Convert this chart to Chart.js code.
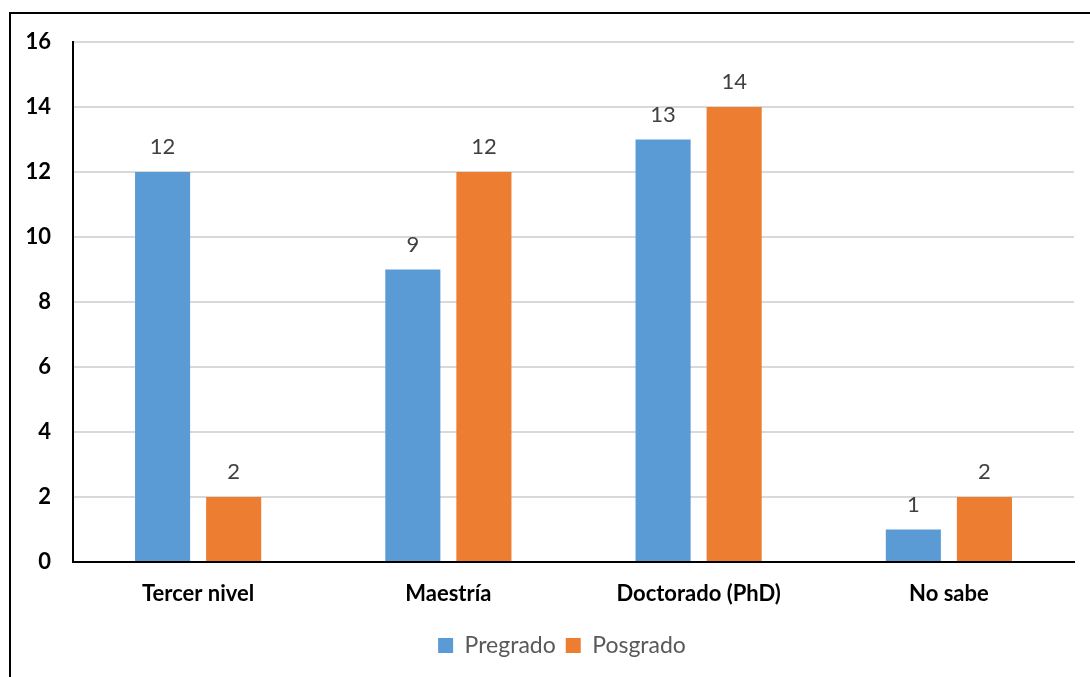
<!DOCTYPE html>
<html>
<head>
<meta charset="utf-8">
<script src="https://cdn.jsdelivr.net/npm/chart.js@4"></script>
<style>
  html, body { margin: 0; padding: 0; background: #fff; }
  #wrap { width: 1090px; height: 677px; }
</style>
</head>
<body>
<div id="wrap"><canvas id="nivelChart"></canvas></div>
<script>
const categories = ['Tercer nivel', 'Maestría', 'Doctorado (PhD)', 'No sabe'];
const pregrado = [12, 9, 13, 1];
const posgrado = [2, 12, 14, 2];
const yTicks = [0, 2, 4, 6, 8, 10, 12, 14, 16];

// outer frame (only top and left edges are visible in the picture)
const framePlugin = {
    id: 'frame',
    beforeDraw(chart) {
        const ctx = chart.ctx;
        ctx.save();
        ctx.strokeStyle = '#000';
        ctx.lineWidth = 2;
        ctx.beginPath();
        ctx.moveTo(10, 677);
        ctx.lineTo(10, 13);
        ctx.lineTo(1090, 13);
        ctx.stroke();
        ctx.restore();
    },
    // nudge the legend so it centres under the plot, like the original
    afterLayout(chart) {
        if (chart.legend) {
            chart.legend.left += 20;
            chart.legend.right += 20;
        }
    }
};

// value labels above each bar
const valueLabels = {
    id: 'valueLabels',
    afterDatasetsDraw(chart) {
        const ctx = chart.ctx;
        ctx.save();
        ctx.font = '22px Lato';
        ctx.fillStyle = '#404040';
        ctx.textAlign = 'center';
        ctx.textBaseline = 'bottom';
        chart.data.datasets.forEach((ds, i) => {
            chart.getDatasetMeta(i).data.forEach((bar, j) => {
                ctx.fillText(ds.data[j], bar.x, bar.y - 14);
            });
        });
        ctx.restore();
    }
};

const nivelChart = new Chart(document.getElementById('nivelChart'), {
    type: 'bar',
    data: {
        labels: categories,
        datasets: [{
            label: 'Pregrado',
            data: pregrado,
            backgroundColor: '#5B9BD5'
        }, {
            label: 'Posgrado',
            data: posgrado,
            backgroundColor: '#ED7D31'
        }]
    },
    options: {
        responsive: true,
        maintainAspectRatio: false,
        animation: false,
        layout: {
            padding: { left: 10, right: 16, top: 42, bottom: 10 }
        },
        datasets: {
            bar: { categoryPercentage: 0.568, barPercentage: 0.775 }
        },
        scales: {
            x: {
                afterFit(axis) { axis.height = 62; },
                grid: { display: false, drawTicks: false },
                border: { color: '#000', width: 2 },
                ticks: {
                    color: '#000',
                    font: { family: 'Lato', size: 22, weight: 'bold' },
                    padding: 19
                }
            },
            y: {
                min: 0,
                max: 16,
                afterBuildTicks(axis) {
                    axis.ticks = yTicks.map(v => ({ value: v }));
                },
                afterFit(axis) { axis.width = 63; },
                grid: { color: '#d9d9d9', lineWidth: 2, drawTicks: false },
                border: { color: '#000', width: 2 },
                ticks: {
                    color: '#000',
                    font: { family: 'Lato', size: 22, weight: 'bold' },
                    padding: 22
                }
            }
        },
        plugins: {
            legend: {
                position: 'bottom',
                labels: {
                    color: '#595959',
                    font: { family: 'Lato', size: 23 },
                    boxWidth: 15,
                    boxHeight: 15,
                    padding: 10
                }
            },
            tooltip: { enabled: false }
        }
    },
    plugins: [framePlugin, valueLabels]
});
</script>
</body>
</html>
